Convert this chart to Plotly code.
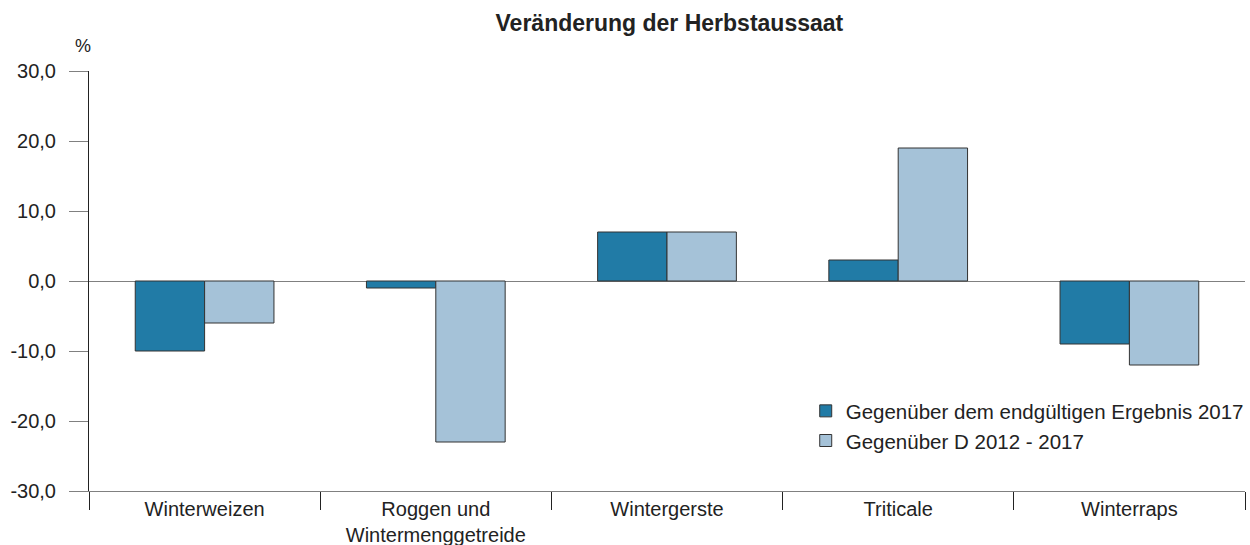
import plotly.graph_objects as go

categories = ["Winterweizen", "Roggen und<br>Wintermenggetreide", "Wintergerste", "Triticale", "Winterraps"]
series_names = ["Gegenüber dem endgültigen Ergebnis 2017", "Gegenüber D 2012 - 2017"]
vals_2017 = [-10, -1, 7, 3, -9]
vals_avg = [-6, -23, 7, 19, -12]
y_ticks = [-30, -20, -10, 0, 10, 20, 30]
y_ticktext = ["-30,0", "-20,0", "-10,0", "0,0", "10,0", "20,0", "30,0"]

colors = ["#217ba6", "#a5c2d8"]
xpos = list(range(len(categories)))
boundaries = [i - 0.5 for i in range(len(categories) + 1)]

fig = go.Figure()
for name, vals, col in zip(series_names, [vals_2017, vals_avg], colors):
    fig.add_trace(go.Bar(x=xpos, y=vals, name=name, marker=dict(color=col, line=dict(color="#333333", width=1))))

# invisible trace for boundary ticks axis
fig.add_trace(go.Scatter(x=boundaries, y=[0]*len(boundaries), xaxis="x2", mode="markers",
                         marker=dict(opacity=0), showlegend=False, hoverinfo="skip"))

font = "Liberation Sans, Arial, sans-serif"
fig.update_layout(
    width=1250, height=545,
    margin=dict(l=89, r=1, t=71, b=54),
    paper_bgcolor="white", plot_bgcolor="white",
    font=dict(family=font, size=20, color="#222222"),
    title=dict(text="<b>Veränderung der Herbstaussaat</b>", x=0.5355, xanchor="center", y=0.958, yanchor="middle",
               font=dict(size=23, color="#222222")),
    barmode="group", bargap=0.4, bargroupgap=0,
    showlegend=True,
    legend=dict(x=0.62, y=0.238, xanchor="left", yanchor="top", bgcolor="rgba(0,0,0,0)",
                font=dict(size=20.5), traceorder="normal", tracegroupgap=0, itemwidth=30),
    xaxis=dict(range=[-0.5, 4.5], tickvals=xpos, ticktext=categories, ticks="", showline=True,
               linecolor="#808080", linewidth=1, showgrid=False, zeroline=False, ticklabelstandoff=0,
               tickfont=dict(size=20), automargin=False),
    xaxis2=dict(range=[-0.5, 4.5], overlaying="x", tickvals=boundaries, showticklabels=False,
                ticks="outside", ticklen=18, tickcolor="#222222", showgrid=False, zeroline=False,
                showline=False, side="bottom", anchor="y", automargin=False),
    yaxis=dict(range=[-30, 30], tickvals=y_ticks, ticktext=y_ticktext, ticks="outside", ticklen=19,
               tickcolor="#808080", showline=True, linecolor="#222222", linewidth=1, showgrid=False,
               zeroline=True, zerolinecolor="#808080", zerolinewidth=1, tickfont=dict(size=20),
               ticklabelstandoff=9, automargin=False),
    annotations=[dict(text="%", xref="paper", yref="paper", x=-0.005, y=1.0, yshift=13, xanchor="center",
                      yanchor="bottom", showarrow=False, font=dict(size=18))],
)
fig.write_html("out.html", config={"displayModeBar": False},
               post_script="document.body.style.margin='0';document.body.style.overflow='hidden';")
